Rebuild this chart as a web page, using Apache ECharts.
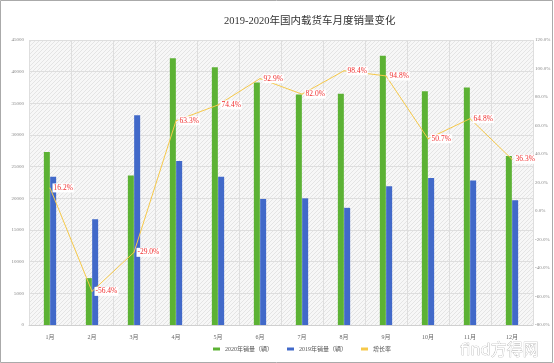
<!DOCTYPE html>
<html><head><meta charset="utf-8">
<script src="https://cdn.jsdelivr.net/npm/echarts@6/dist/echarts.min.js"></script>
<style>html,body{margin:0;padding:0;background:#fff}#c{width:554px;height:363px}</style>
</head><body><div id="c"></div>
<script>
var categories = ['1月','2月','3月','4月','5月','6月','7月','8月','9月','10月','11月','12月'];
var sales2020 = [27300, 7400, 23600, 42100, 40700, 38300, 36400, 36500, 42500, 36900, 37500, 26700];
var sales2019 = [23400, 16700, 33100, 25900, 23400, 19900, 20000, 18500, 21900, 23200, 22800, 19700];
var growth = [16.2, -56.4, -29.0, 63.3, 74.4, 92.9, 82.0, 98.4, 94.8, 50.7, 64.8, 36.3];
var leftTicks = {min: 0, max: 45000, interval: 5000};
var rightTicks = {min: -80, max: 120, interval: 20};

var pc = document.createElement('canvas');
pc.width = 4; pc.height = 4;
var g = pc.getContext('2d');
g.fillStyle = '#f7f7f7'; g.fillRect(0,0,4,4);
g.fillStyle = '#e4e4e4';
for (var i=0;i<4;i++){ g.fillRect(i,3-i,1,1); }

var chart = echarts.init(document.getElementById('c'));
var axisFont = {fontSize: 5, color: '#888', fontFamily: 'Liberation Serif'};
chart.setOption({
  animation: false,
  backgroundColor: '#fff',
  title: {
    text: '2019-2020年国内载货车月度销量变化',
    left: 219, top: 11,
    textStyle: {fontSize: 10.5, fontWeight: 'normal', color: '#333', fontFamily: 'Liberation Serif, Noto Sans CJK SC'}
  },
  legend: {
    left: 208, top: 341, itemGap: 14, itemWidth: 7, itemHeight: 3,
    textStyle: {fontSize: 6, color: '#555', fontFamily: 'Liberation Serif, Noto Sans CJK SC'},
    data: [
      {name: '2020年销量（辆）', icon: 'rect'},
      {name: '2019年销量（辆）', icon: 'rect'},
      {name: '增长率', icon: 'rect'}
    ]
  },
  grid: {left: 29, right: 21, top: 40, bottom: 38, show: true, borderWidth: 0,
    backgroundColor: {image: pc, repeat: 'repeat'}},
  xAxis: {
    type: 'category', data: categories, boundaryGap: true,
    axisLine: {lineStyle: {color: '#d0d0d0'}},
    axisTick: {show: false},
    splitLine: {show: true, lineStyle: {color: '#dedede'}},
    axisLabel: {fontSize: 6, color: '#666', margin: 9, fontFamily: 'Liberation Serif, Noto Sans CJK SC'}
  },
  yAxis: [
    {type: 'value', min: leftTicks.min, max: leftTicks.max, interval: leftTicks.interval,
     axisLine: {show: false}, axisTick: {show: false},
     splitLine: {lineStyle: {color: '#dedede'}},
     axisLabel: Object.assign({margin: 5, formatter: function(v){return String(v);}}, axisFont)},
    {type: 'value', min: rightTicks.min, max: rightTicks.max, interval: rightTicks.interval,
     axisLine: {show: false}, axisTick: {show: false}, splitLine: {show: false},
     axisLabel: Object.assign({margin: 2, formatter: function(v){return v.toFixed(1)+'%';}}, axisFont)}
  ],
  series: [
    {name: '2020年销量（辆）', type: 'bar', data: sales2020, barWidth: 6, barGap: '5%',
     itemStyle: {color: '#5cb234'}},
    {name: '2019年销量（辆）', type: 'bar', data: sales2019, barWidth: 6,
     itemStyle: {color: '#4169c9'}},
    {name: '增长率', type: 'line', yAxisIndex: 1, data: growth, z: 5,
     symbol: 'circle', symbolSize: 1, showSymbol: true,
     lineStyle: {color: '#f6c94a', width: 1}, itemStyle: {color: '#f6c94a'},
     labelLayout: {hideOverlap: false},
     label: {show: true, position: 'right', distance: 2, color: '#f03030', fontSize: 7.5,
       backgroundColor: '#fff', padding: [1,1,0,1],
       fontFamily: 'Liberation Serif',
       formatter: function(p){return p.value.toFixed(1)+'%';}}}
  ],
  graphic: [
    {type: 'rect', shape: {x: 0.5, y: 0.5, width: 552, height: 362}, style: {fill: 'none', stroke: '#aaa', lineWidth: 1}, silent: true},
    {type: 'text', left: 460, top: 343, style: {text: 'find方得网', fontSize: 16, fill: '#fff', stroke: '#aaa', lineWidth: 0.6, fontFamily: 'DejaVu Sans, Noto Sans CJK SC'}, silent: true}
  ]
});
</script></body></html>
